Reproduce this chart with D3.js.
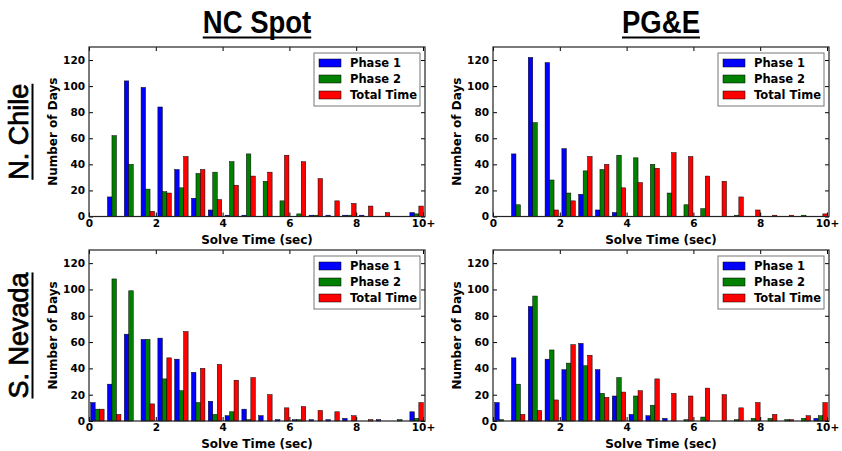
<!DOCTYPE html>
<html>
<head>
<meta charset="utf-8">
<script src="https://cdn.jsdelivr.net/npm/d3@7"></script>
<style>
body { margin: 0; background: #fff; }
text { font-family: "DejaVu Sans", sans-serif; font-weight: bold; fill: #000; }
</style>
</head>
<body>
<script>
let seriesNames = ["Phase 1", "Phase 2", "Total Time"];
let seriesColors = ["#0000ff", "#008000", "#ff0000"];
let xTickValues = [0, 2, 4, 6, 8, 10];
let xTickLabels = ["0", "2", "4", "6", "8", "10+"];
let yTickValues = [0, 20, 40, 60, 80, 100, 120];
let colTitles = ["NC Spot", "PG&E"];
let rowTitles = ["N. Chile", "S. Nevada"];

// days per solve-time bin (20 bins, last one is 10+)
let ncChilePhase1 = [0, 15, 104, 99, 84, 36, 14, 5, 1, 1, 0, 0, 0, 1, 1, 1, 1, 0, 0, 3];
let ncChilePhase2 = [0, 62, 40, 21, 19, 22, 33, 34, 42, 48, 27, 12, 2, 1, 0, 1, 0, 0, 0, 2];
let ncChileTotal  = [0, 0, 0, 4, 18, 46, 36, 13, 24, 31, 34, 47, 42, 29, 12, 10, 8, 3, 0, 8];

let pgeChilePhase1 = [0, 48, 122, 118, 52, 17, 5, 3, 0, 0, 0, 0, 0, 0, 0, 0, 0, 0, 0, 0];
let pgeChilePhase2 = [0, 9, 72, 28, 18, 35, 36, 47, 45, 40, 18, 9, 6, 0, 1, 0, 0, 0, 1, 0];
let pgeChileTotal  = [0, 0, 0, 5, 12, 46, 40, 22, 26, 37, 49, 46, 31, 27, 15, 5, 1, 1, 0, 2];

let ncNevadaPhase1 = [14, 28, 66, 62, 63, 47, 37, 15, 4, 9, 4, 1, 1, 1, 1, 2, 0, 1, 0, 7];
let ncNevadaPhase2 = [9, 108, 99, 62, 32, 23, 14, 5, 7, 1, 0, 0, 1, 0, 0, 0, 0, 0, 1, 2];
let ncNevadaTotal  = [9, 5, 0, 13, 48, 68, 40, 43, 31, 33, 20, 10, 11, 8, 7, 4, 1, 0, 0, 14];

let pgeNevadaPhase1 = [14, 48, 87, 47, 39, 59, 39, 19, 5, 4, 2, 0, 0, 0, 0, 0, 0, 0, 0, 2];
let pgeNevadaPhase2 = [1, 28, 95, 54, 44, 42, 21, 33, 19, 12, 0, 1, 3, 0, 1, 2, 2, 1, 2, 4];
let pgeNevadaTotal  = [0, 5, 8, 16, 58, 50, 18, 22, 23, 32, 21, 19, 25, 20, 10, 14, 5, 1, 4, 14];

let svgContainer,
    svgWidth = 842,
    svgHeight = 451,
    xMax = 10.06,
    yMax = 130,
    binCount = 20,
    binWidth = xMax / binCount,
    rwidth = 0.8;

let panels = [
    {x: 89, y: 47, w: 336, h: 169.5, row: 0, col: 0, data: [ncChilePhase1, ncChilePhase2, ncChileTotal]},
    {x: 493, y: 47, w: 336, h: 169.5, row: 0, col: 1, data: [pgeChilePhase1, pgeChilePhase2, pgeChileTotal]},
    {x: 89, y: 250, w: 336, h: 171, row: 1, col: 0, data: [ncNevadaPhase1, ncNevadaPhase2, ncNevadaTotal]},
    {x: 493, y: 250, w: 336, h: 171, row: 1, col: 1, data: [pgeNevadaPhase1, pgeNevadaPhase2, pgeNevadaTotal]}
];

function init() {
    svgContainer = d3.select("body").append("svg")
        .attr("width", svgWidth)
        .attr("height", svgHeight);

    panels.forEach(p => drawPanel(p));

    // column titles (narrow bold look: squeeze horizontally)
    colTitles.forEach((t, i) => {
        let p = panels[i];
        let cx = p.x + p.w / 2;
        let squeeze = 0.86;
        let txt = svgContainer.append("text")
            .attr("transform", "translate(" + cx + ",33) scale(" + squeeze + ",1)")
            .attr("text-anchor", "middle")
            .style("font-family", "'Liberation Sans', Arial, sans-serif")
            .style("font-size", "32px")
            .text(t);
        let len = txt.node().getComputedTextLength() * squeeze;
        svgContainer.append("line")
            .attr("x1", cx - len / 2).attr("x2", cx + len / 2)
            .attr("y1", 37.5).attr("y2", 37.5)
            .attr("stroke", "#000").attr("stroke-width", 2);
    });

    // row titles
    rowTitles.forEach((t, i) => {
        let p = panels[i * 2];
        let cy = p.y + p.h / 2;
        let txt = svgContainer.append("text")
            .attr("transform", "translate(28," + cy + ") rotate(-90)")
            .attr("text-anchor", "middle")
            .style("font-family", "'Liberation Sans', Arial, sans-serif")
            .style("font-weight", "normal")
            .style("font-size", "27px")
            .attr("stroke", "#000")
            .attr("stroke-width", 0.7)
            .text(t);
        let len = txt.node().getComputedTextLength();
        svgContainer.append("line")
            .attr("x1", 32.5).attr("x2", 32.5)
            .attr("y1", cy - len / 2).attr("y2", cy + len / 2)
            .attr("stroke", "#000").attr("stroke-width", 2);
    });
}

function drawPanel(p) {
    let g = svgContainer.append("g")
        .attr("transform", "translate(" + p.x + "," + p.y + ")");

    let xScale = d3.scaleLinear().domain([0, xMax]).range([0, p.w]);
    let yScale = d3.scaleLinear().domain([0, yMax]).range([p.h, 0]);
    let barW = binWidth * rwidth / 3;

    p.data.forEach((values, s) => {
        g.selectAll(".bar" + s)
            .data(values.map((v, i) => ({v: v, i: i})).filter(d => d.v > 0))
            .enter().append("rect")
            .attr("x", d => xScale(d.i * binWidth + binWidth * (1 - rwidth) / 2 + s * barW))
            .attr("y", d => yScale(d.v))
            .attr("width", xScale(barW))
            .attr("height", d => p.h - yScale(d.v))
            .attr("fill", seriesColors[s])
            .attr("stroke", "#000")
            .attr("stroke-width", 0.5);
    });

    let xAxis = d3.axisBottom(xScale).tickValues(xTickValues)
        .tickFormat((d, i) => xTickLabels[i]).tickSize(-4).tickPadding(3);
    let yAxis = d3.axisLeft(yScale).tickValues(yTickValues).tickSize(-4).tickPadding(4);
    let xTop = d3.axisTop(xScale).tickValues(xTickValues).tickFormat("").tickSize(-4);
    let yRight = d3.axisRight(yScale).tickValues(yTickValues).tickFormat("").tickSize(-4);

    g.append("g").attr("transform", "translate(0," + p.h + ")").call(xAxis);
    g.append("g").call(yAxis);
    g.append("g").call(xTop);
    g.append("g").attr("transform", "translate(" + p.w + ",0)").call(yRight);

    g.selectAll(".domain").remove();
    g.selectAll(".tick line").attr("stroke", "#000");
    g.selectAll(".tick text")
        .style("font-family", "'DejaVu Sans', sans-serif")
        .style("font-weight", "bold")
        .style("font-size", "10.5px")
        .attr("fill", "#000");

    g.append("rect")
        .attr("width", p.w).attr("height", p.h)
        .attr("fill", "none")
        .attr("stroke", "#222")
        .attr("stroke-width", 1.2);

    // axis labels
    g.append("text")
        .attr("x", p.w / 2)
        .attr("y", p.h + 27)
        .attr("text-anchor", "middle")
        .style("font-size", "12px")
        .text("Solve Time (sec)");

    g.append("text")
        .attr("transform", "translate(-32," + (p.h / 2) + ") rotate(-90)")
        .attr("text-anchor", "middle")
        .style("font-size", "12px")
        .text("Number of Days");

    // legend
    let lg = g.append("g").attr("transform", "translate(" + (p.w - 111) + ",6)");
    lg.append("rect")
        .attr("width", 106).attr("height", 53)
        .attr("fill", "#fff")
        .attr("stroke", "#777")
        .attr("stroke-width", 1);
    seriesNames.forEach((name, s) => {
        let cy = 10 + s * 16;
        lg.append("rect")
            .attr("x", 5).attr("y", cy - 4)
            .attr("width", 22).attr("height", 8)
            .attr("fill", seriesColors[s])
            .attr("stroke", "#000")
            .attr("stroke-width", 0.5);
        lg.append("text")
            .attr("x", 36).attr("y", cy + 4)
            .style("font-size", "11.5px")
            .text(name);
    });
}

init();
</script>
</body>
</html>
